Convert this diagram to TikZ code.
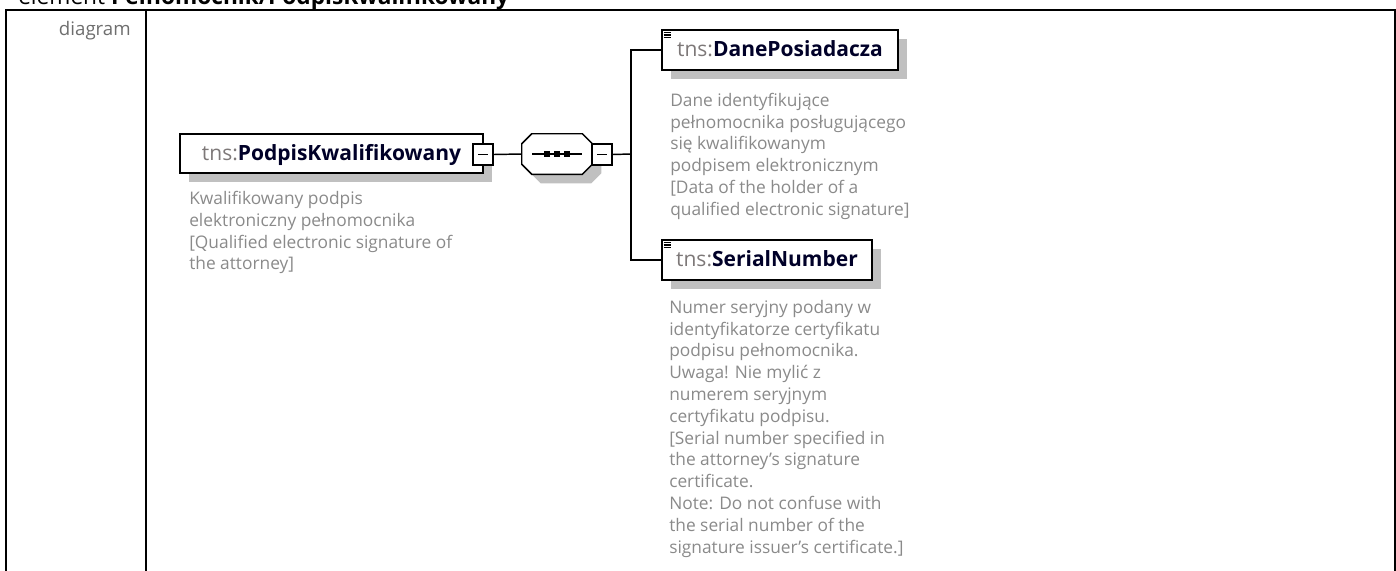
\documentclass[tikz,border=0pt]{standalone}
\usepackage{fontspec}
\setmainfont{Open Sans}
\usetikzlibrary{calc}
\definecolor{shadowgray}{RGB}{192,192,192}
\definecolor{descgray}{RGB}{138,138,138}
\definecolor{prefixgray}{RGB}{125,120,120}
\definecolor{namenavy}{RGB}{0,0,40}
\definecolor{labelgray}{RGB}{110,110,110}
\tikzset{
  tableline/.style={line width=1.5pt, draw=black},
  elbox/.style={draw=black, line width=1.5pt, fill=white, inner sep=0pt,
    text height=10pt, text depth=0pt, font=\fontsize{15.75}{18}\selectfont},
  minusbox/.style={draw=black, line width=1.1pt, fill=white, inner sep=0pt,
    minimum width=15pt, minimum height=15.75pt},
  conn/.style={draw=black, line width=1.1pt},
  desc/.style={text=descgray, align=left, inner sep=0pt, anchor=north west,
    font=\fontsize{13}{16.35}\selectfont},
  shadowfill/.style={fill=shadowgray, draw=none},
  iconline/.style={draw=black, line width=0.8pt},
}
\newcommand{\elname}[1]{{\color{prefixgray}tns:}{\color{namenavy}\bfseries #1}}
\newcommand{\dstrut}{\rule{0pt}{10.5pt}}
\begin{document}
\begin{tikzpicture}[x=0.75pt,y=-0.75pt]
\useasboundingbox (0,0) rectangle (1396,571);
% page title (cut at the top)
\node[anchor=base west, inner sep=0pt, font=\fontsize{17}{20}\selectfont] (title) at (18,4)
  {element \textbf{Pełnomocnik/PodpisKwalifikowany}};
% table frame
\draw[tableline] (6,575) -- (6,9.5) -- (1395,9.5) -- (1395,575);
\draw[tableline] (146,9.5) -- (146,575);
\node[anchor=base east, inner sep=0pt, text=labelgray, font=\fontsize{14}{17}\selectfont] (lbl) at (131,36) {diagram};

% main element
\fill[shadowfill] (189,143) rectangle (492,182);
\node[elbox, minimum width=227.25pt, minimum height=29.25pt] (main) at (331.5,153.5) {\elname{PodpisKwalifikowany}};
\node[minusbox] (mminus) at (483,154.5) {};
\draw[line width=1.1pt] ($(mminus.center)+(-5,0)$) -- ($(mminus.center)+(5,0)$);
\node[desc] (mdesc) at ($(main.south west)+(10,16.3)$) {\dstrut Kwalifikowany podpis\\elektroniczny pełnomocnika\\{[}Qualified electronic signature of\\the attorney]};

% sequence compositor
\node[inner sep=0pt, minimum width=52.5pt, minimum height=30pt] (seq) at (557,154) {};
\fill[shadowfill] ($(seq.north west)+(19,9)$) -- ($(seq.north east)+(-1,9)$) -- ($(seq.north east)+(9,19)$) -- ($(seq.south east)+(9,-1)$) -- ($(seq.south east)+(-1,9)$) -- ($(seq.south west)+(19,9)$) -- ($(seq.south west)+(9,-1)$) -- ($(seq.north west)+(9,19)$) -- cycle;
\draw[line width=1.1pt, fill=white] ($(seq.north west)+(10,0)$) -- ($(seq.north east)+(-10,0)$) -- ($(seq.north east)+(0,10)$) -- ($(seq.south east)+(0,-10)$) -- ($(seq.south east)+(-10,0)$) -- ($(seq.south west)+(10,0)$) -- ($(seq.south west)+(0,-10)$) -- ($(seq.north west)+(0,10)$) -- cycle;
\draw[line width=1.1pt] ($(seq.center)+(-25,0)$) -- ($(seq.center)+(25,0)$);
\foreach \dx in {-10,0,10}
  \fill ($(seq.center)+(\dx-2.75,-2.75)$) rectangle ($(seq.center)+(\dx+2.75,2.75)$);
\node[minusbox] (sminus) at (602,154.5) {};
\draw[line width=1.1pt] ($(sminus.center)+(-5,0)$) -- ($(sminus.center)+(5,0)$);

% children
\fill[shadowfill] (671,39) rectangle (907,79);
\node[elbox, minimum width=177pt, minimum height=30pt] (dane) at (780,50) {\elname{DanePosiadacza}};
\foreach \yy in {3.5,6,8.5}
  \draw[iconline] ($(dane.north west)+(2.5,\yy)$) -- ($(dane.north west)+(9.5,\yy)$);
\node[desc] (ddesc) at ($(dane.south west)+(9,21)$) {\dstrut Dane identyfikujące\\pełnomocnika posługującego\\się kwalifikowanym\\podpisem elektronicznym\\{[}Data of the holder of a\\qualified electronic signature]};

\fill[shadowfill] (671,249) rectangle (881,289);
\node[elbox, minimum width=157.5pt, minimum height=30pt] (serial) at (767,260) {\elname{SerialNumber}};
\foreach \yy in {3.5,6,8.5}
  \draw[iconline] ($(serial.north west)+(2.5,\yy)$) -- ($(serial.north west)+(9.5,\yy)$);
\node[desc] (sdesc) at ($(serial.south west)+(8,18)$) {\dstrut Numer seryjny podany w\\identyfikatorze certyfikatu\\podpisu pełnomocnika.\\Uwaga! Nie mylić z\\numerem seryjnym\\certyfikatu podpisu.\\{[}Serial number specified in\\the attorney's signature\\certificate.\\Note: Do not confuse with\\the serial number of the\\signature issuer's certificate.]};

% connectors
\coordinate (bus) at (631,154);
\draw[conn] (mminus.east) -- (seq.west);
\draw[conn] (sminus.east) -- (bus);
\draw[conn] (dane.west) -| (bus);
\draw[conn] (serial.west) -| (bus);
\end{tikzpicture}
\end{document}
